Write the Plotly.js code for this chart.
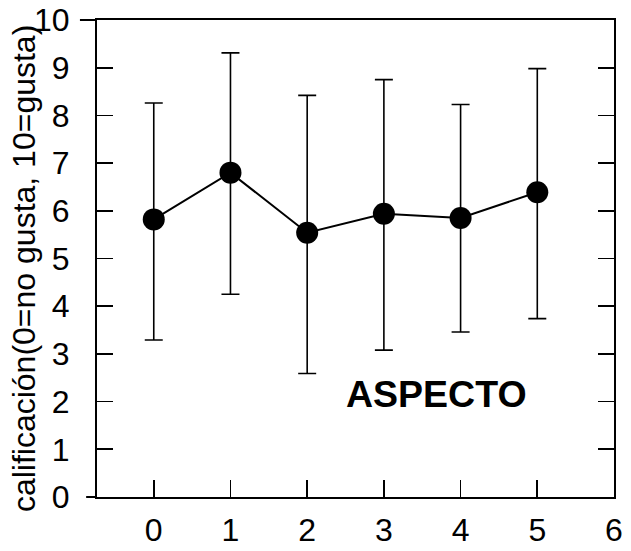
<!DOCTYPE html>
<html>
<head>
<meta charset="utf-8">
<script src="https://cdn.plot.ly/plotly-3.0.1.min.js"></script>
<style>html,body{margin:0;padding:0;background:#fff;}#chart{width:631px;height:551px;}</style>
</head>
<body>
<div id="chart"></div>
<script>
// Data
var xValues = [0, 1, 2, 3, 4, 5];
var meanValues = [5.82, 6.80, 5.54, 5.94, 5.85, 6.39];
var upperValues = [8.26, 9.31, 8.42, 8.75, 8.23, 8.98];
var lowerValues = [3.29, 4.25, 2.59, 3.08, 3.46, 3.74];
var xTicks = [0, 1, 2, 3, 4, 5, 6];
var yTicks = [0, 1, 2, 3, 4, 5, 6, 7, 8, 9, 10];
var yTitle = 'calificación(0=no gusta, 10=gusta)';
var panelLabel = 'ASPECTO';

var errPlus = upperValues.map(function(v, i){ return v - meanValues[i]; });
var errMinus = lowerValues.map(function(v, i){ return meanValues[i] - v; });

var FONT = '"Liberation Sans", Arial, Helvetica, sans-serif';

var trace = {
  x: xValues,
  y: meanValues,
  type: 'scatter',
  mode: 'lines+markers',
  line: {color: '#000', width: 2},
  marker: {color: '#000', size: 22},
  error_y: {
    type: 'data', symmetric: false,
    array: errPlus, arrayminus: errMinus,
    color: '#000', thickness: 1.6, width: 9
  },
  hoverinfo: 'none'
};

var layout = {
  width: 631, height: 551,
  margin: {l: 97, r: 17, t: 20, b: 54, pad: 0},
  paper_bgcolor: '#fff', plot_bgcolor: '#fff',
  showlegend: false,
  font: {family: FONT, color: '#000', size: 32},
  xaxis: {
    range: [-0.74, 6.0],
    tickvals: xTicks, ticktext: xTicks.map(String),
    ticks: 'inside', ticklen: 17, tickwidth: 1.6, tickcolor: '#000',
    showline: true, linecolor: '#000', linewidth: 2, mirror: true,
    showgrid: false, zeroline: false,
    tickfont: {family: FONT, size: 32, color: '#000'},
    ticklabelstandoff: 4
  },
  yaxis: {
    range: [0, 10],
    tickvals: yTicks, ticktext: yTicks.map(String),
    ticks: 'inside', ticklen: 16, tickwidth: 1.6, tickcolor: '#000',
    showline: true, linecolor: '#000', linewidth: 2, mirror: 'ticks',
    showgrid: false, zeroline: false,
    tickfont: {family: FONT, size: 32, color: '#000'},
    ticklabelstandoff: 19
  },
  annotations: [
    {
      text: yTitle, xref: 'paper', yref: 'paper',
      x: -0.142, y: 0.479, xanchor: 'center', yanchor: 'middle',
      textangle: -90, showarrow: false,
      font: {family: FONT, size: 32, color: '#000'}
    },
    {
      text: '<b>' + panelLabel + '</b>', xref: 'x', yref: 'y',
      x: 3.69, y: 2.15, xanchor: 'center', yanchor: 'middle',
      showarrow: false,
      font: {family: FONT, size: 37.5, color: '#000'}
    }
  ],
  shapes: [
    {type: 'line', xref: 'paper', yref: 'paper', x0: -0.033, x1: 0, y0: 1, y1: 1, line: {color: '#000', width: 2}},
    {type: 'line', xref: 'paper', yref: 'paper', x0: -0.021, x1: 0, y0: 0, y1: 0, line: {color: '#000', width: 2}}
  ]
};

Plotly.newPlot('chart', [trace], layout, {displayModeBar: false, staticPlot: true});
</script>
</body>
</html>
